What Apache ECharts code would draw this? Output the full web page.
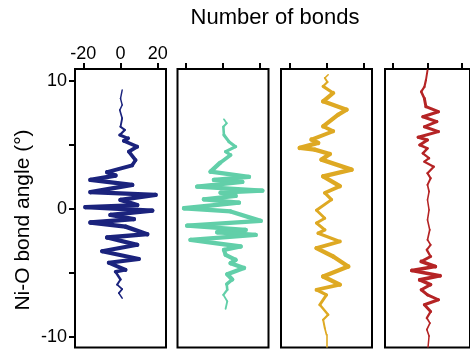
<!DOCTYPE html>
<html>
<head>
<meta charset="utf-8">
<script src="https://cdn.jsdelivr.net/npm/echarts@6/dist/echarts.min.js"></script>
<style>
  html, body { margin: 0; padding: 0; background: #fff; }
  #chart { width: 470px; height: 352px; }
</style>
</head>
<body>
<div id="chart"></div>
<script>
// panel 1
var angle1 = [9.26, 8.6, 8.1, 7.7, 7.06, 6.4, 6.15, 5.76, 5.5, 5.3, 4.85, 4.46, 3.8, 3.4, 2.86, 2.6, 2.26, 1.87, 1.3, 1.09, 0.7, 0.3, 0.13, -0.13, -0.47, -0.8, -1.06, -1.38, -1.97, -2.23, -2.8, -3.3, -3.9, -4.2, -4.75, -4.9, -5.5, -5.9, -6.25, -6.56, -6.95];
var bonds1 = [0.9, 0, 0.9, -0.4, 0.9, 0, 2.3, -0.4, 4.1, 1.8, 9, 4.5, 8.1, 6.3, -7.2, -2.7, -16.2, 6.3, -16.2, 18.9, 0, 9, -18.9, 17.1, -5.4, 7.2, -16.2, 2.7, 14.4, -7.2, 9, -9.9, 9.9, -6.3, 2.7, -2.7, 0, -1.8, 0.9, -0.9, 0.9];
// panel 2
var angle2 = [6.98, 6.67, 6.4, 5.76, 5.24, 4.85, 4.46, 4.2, 3.6, 2.9, 2.5, 2.26, 2.1, 1.74, 1.42, 1.27, 1.01, 0.75, 0.49, 0.05, -0.2, -0.93, -1.3, -1.63, -1.82, -2.02, -2.41, -2.93, -3.19, -3.58, -3.97, -4.23, -4.6, -5.1, -5.5, -5.86, -6.3, -6.7, -7.2, -7.78];
var bonds2 = [0.5, 2, 0.2, 0.5, 3.2, 6.8, 1.4, 4.1, -1.5, -6.7, 14, -4.9, 10.4, -13.9, 21.2, -1.3, 6.8, -10.3, 8.6, -21, 4.1, 20.3, -19.3, 12.2, -3.1, 17.6, -17.5, 9.5, 0.5, 1.4, 6.8, 4.1, 11.3, 2.3, 5, 2, 2.3, 0.2, 2.3, 1.4];
// panel 3
var angle3 = [10.45, 10.2, 9.88, 9.55, 9.03, 8.38, 7.73, 7.34, 6.43, 6.05, 5.4, 5.14, 4.75, 4.62, 4.28, 3.84, 3.06, 2.54, 1.77, 1.25, 0.72, -0.1, -0.73, -1.1, -1.63, -1.9, -2.54, -3.06, -3.71, -4.49, -5.27, -5.9, -6.3, -6.7, -7.47, -8.25, -8.64, -9.3, -9.8, -10.8];
var bonds3 = [0.9, -0.9, 0.5, -1.8, 3.6, -1.8, 10.8, 6.3, -1.8, 3.6, -8.1, -4.5, -14.4, -6.3, 1.8, -2.7, 13.5, -1.8, 7.2, -0.9, 2.7, -5.4, -0.9, -5.4, -0.9, -4.5, 7.2, -5.4, 3.6, 11.7, -1.8, 7.2, -5.4, 0, -3.6, 0.9, -1.8, -0.9, 0, 0];
// panel 4
var angle4 = [10.8, 10.04, 9.5, 9.13, 8.6, 7.96, 7.57, 7.18, 6.8, 6.4, 6.02, 5.58, 5.37, 4.98, 4.72, 4.33, 3.95, 3.68, 3.29, 2.78, 2.39, 1.87, 1.35, 0.7, -0.08, -0.86, -1.63, -2.41, -2.8, -3.19, -3.71, -4.1, -4.49, -4.8, -5.21, -5.53, -5.9, -6.3, -6.7, -7.08, -7.47, -8, -8.5, -8.9, -9.4, -9.9, -10.8];
var bonds4 = [0, -0.9, -1.8, -3.6, -1.8, -0.9, 6.3, -2.7, 5.4, -1.8, 6.3, -5.4, 0, -4.5, 0, -2.7, 0.9, -1.8, 3.6, 0, 1.8, 0, 0.9, 0, 0.9, 0, 1.3, 0, 1.8, -0.4, 1.8, -3.6, 4.5, -9, 7.2, -4.5, 1.8, -3.6, 0, 6.3, -1.8, 1.8, -0.4, 1.4, -0.4, 0.9, 0.3];

var xTicks = [-20, 0, 20];
var yTicks = [-10, -5, 0, 5, 10];
var yLabels = [-10, 0, 10];

var panels = [
  { bonds: bonds1, angle: angle1, color: '#1b237d', left: 75 },
  { bonds: bonds2, angle: angle2, color: '#62cfa9', left: 177.5 },
  { bonds: bonds3, angle: angle3, color: '#dea923', left: 281 },
  { bonds: bonds4, angle: angle4, color: '#b52425', left: 385 }
];

var font = 'Liberation Sans, Arial, sans-serif';

// line width follows local amplitude of the trace
function widthAt(b, i) {
  var amp = 0;
  for (var k = i - 2; k <= i + 2; k++) {
    if (k >= 0 && k < b.length) amp = Math.max(amp, Math.abs(b[k]));
  }
  return Math.min(4.3, 1.2 + 0.28 * amp);
}

var grids = [], xAxes = [], yAxes = [], series = [];
panels.forEach(function (p, idx) {
  grids.push({
    left: p.left, top: 69, width: 91, height: 278.5,
    show: true, borderColor: '#000', borderWidth: 2, backgroundColor: 'transparent'
  });
  xAxes.push({
    type: 'value', gridIndex: idx, position: 'top',
    min: -24.5, max: 24.5,
    axisLine: { show: false, onZero: false },
    axisTick: { show: true, inside: false, length: 6, customValues: xTicks, lineStyle: { color: '#000', width: 2 } },
    axisLabel: { show: idx === 0, customValues: xTicks, margin: 6, color: '#000', fontSize: 18, fontFamily: font },
    splitLine: { show: false }
  });
  yAxes.push({
    type: 'value', gridIndex: idx, position: 'left',
    min: -10.8, max: 10.9,
    axisLine: { show: false, onZero: false },
    axisTick: { show: idx === 0, inside: false, length: 6, customValues: yTicks, lineStyle: { color: '#000', width: 2 } },
    axisLabel: { show: idx === 0, customValues: yLabels, margin: 8, color: '#000', fontSize: 18, fontFamily: font },
    splitLine: { show: false }
  });
  var segs = [];
  for (var i = 0; i < p.bonds.length - 1; i++) {
    segs.push({
      coords: [[p.bonds[i], p.angle[i]], [p.bonds[i + 1], p.angle[i + 1]]],
      lineStyle: { width: (widthAt(p.bonds, i) + widthAt(p.bonds, i + 1)) / 2 }
    });
  }
  series.push({
    type: 'lines', coordinateSystem: 'cartesian2d',
    xAxisIndex: idx, yAxisIndex: idx,
    silent: true, animation: false,
    lineStyle: { color: p.color, opacity: 1, curveness: 0, cap: 'round', join: 'round' },
    data: segs
  });
});

var chart = echarts.init(document.getElementById('chart'), null, { renderer: 'canvas' });
chart.setOption({
  backgroundColor: '#fff',
  animation: false,
  grid: grids,
  xAxis: xAxes,
  yAxis: yAxes,
  series: series,
  graphic: [
    {
      type: 'text', x: 275, y: 18,
      style: { text: 'Number of bonds', fill: '#000', font: '22px ' + font, textAlign: 'center', textVerticalAlign: 'middle' }
    },
    {
      type: 'text', x: 23, y: 220, rotation: Math.PI / 2,
      style: { text: 'Ni-O bond angle (°)', fill: '#000', font: '21px ' + font, textAlign: 'center', textVerticalAlign: 'middle' }
    }
  ]
});
</script>
</body>
</html>
